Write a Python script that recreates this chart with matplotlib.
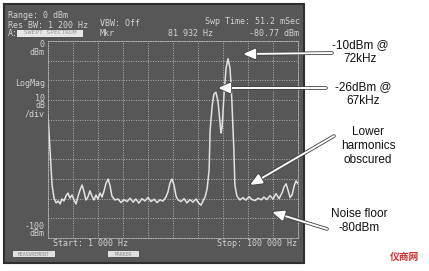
import numpy as np
import matplotlib
matplotlib.use("Agg")
import matplotlib.pyplot as plt
import matplotlib.patheffects as pe
from matplotlib.patches import Rectangle

# trace (kHz, dBm)
freq_khz = [1.0, 1.8, 2.6, 3.4, 4.2, 5.0, 5.8, 6.5, 7.3, 8.1, 8.9, 9.7, 10.5, 11.3,
            12.1, 12.9, 13.7, 14.5, 15.3, 16.0, 16.8, 17.6, 18.4, 19.2, 20.0, 20.8,
            21.6, 22.4, 23.2, 24.0, 24.8, 25.6, 26.3, 27.5, 28.7, 29.9, 31.1, 32.3,
            33.5, 34.7, 35.8, 37.0, 38.2, 39.4, 40.6, 41.8, 43.0, 44.2, 45.4, 46.5,
            47.7, 48.5, 49.3, 50.1, 50.9, 51.7, 52.5, 53.7, 54.9, 56.0, 57.2, 58.4,
            59.6, 60.8, 61.6, 62.4, 63.2, 64.0, 64.8, 65.2, 66.0, 66.7, 67.5, 68.3,
            69.1, 69.5, 69.9, 70.7, 71.5, 72.3, 73.1, 73.8, 74.6, 75.0, 75.8, 77.0,
            78.2, 79.4, 80.6, 81.8, 83.0, 84.2, 85.4, 86.5, 87.7, 88.9, 90.1, 91.3,
            92.5, 93.7, 94.5, 95.3, 96.1, 96.9, 97.7, 98.5, 99.2, 100.0]
level_dbm = [-37.6, -55.3, -73.1, -79.7, -82.2, -81.2, -82.7, -80.2, -81.2, -78.7,
             -77.2, -79.7, -78.2, -80.7, -82.7, -78.7, -75.6, -73.1, -76.6, -80.7,
             -79.2, -76.1, -78.7, -80.7, -78.2, -80.2, -77.2, -79.2, -76.1, -72.1,
             -70.1, -73.6, -78.7, -80.7, -80.2, -82.0, -80.5, -81.5, -79.8, -81.8,
             -80.2, -82.3, -80.0, -81.2, -79.5, -81.5, -80.3, -82.0, -80.6, -81.3,
             -79.2, -76.6, -72.1, -70.1, -73.1, -78.7, -80.7, -81.5, -80.0, -82.2,
             -80.5, -81.8, -80.2, -82.5, -83.3, -81.2, -79.2, -75.1, -65.5, -45.2,
             -33.0, -27.0, -26.0, -30.5, -41.1, -46.7, -44.2, -27.4, -14.0, -9.0,
             -14.0, -30.0, -55.3, -73.1, -78.7, -80.7, -79.5, -80.8, -79.0, -80.5,
             -81.0, -79.8, -80.6, -79.2, -80.5, -78.5, -80.2, -77.5, -80.0, -77.0,
             -74.0, -72.5, -76.0, -79.5, -78.0, -73.5, -71.0, -72.5]

W, H = 429, 271
fig = plt.figure(figsize=(4.29, 2.71), dpi=100)
fig.patch.set_facecolor("white")

# background layer in pixel coordinates
bg = fig.add_axes([0, 0, 1, 1])
bg.set_xlim(0, W)
bg.set_ylim(H, 0)
bg.axis("off")
bg.set_zorder(0)
bg.add_patch(Rectangle((4, 4), 300, 259, facecolor="#575757", edgecolor="#2e2e2e", lw=1.5))

scr = dict(family="DejaVu Sans Mono", fontsize=6, color="#d2d2d2", va="center")
bg.text(8, 16, "Range: 0 dBm", **scr)
bg.text(8, 25, "Res BW: 1 200 Hz", **scr)
bg.text(8, 33, "A:", **scr)
bg.add_patch(Rectangle((17, 29.5), 66, 7, facecolor="#e6e6e6", edgecolor="none"))
bg.text(50, 33, "SWEPT SPECTRUM", family="DejaVu Sans Mono", fontsize=4.5,
        color="#9a9a9a", ha="center", va="center")
bg.text(100, 23, "VBW: Off", **scr)
bg.text(100, 33, "Mkr", **scr)
bg.text(213, 33, "81 932 Hz", ha="right", **scr)
bg.text(205, 22, "Swp Time: 51.2 mSec", **scr)
bg.text(249, 33, "-80.77 dBm", **scr)

lab = dict(scr, ha="right", multialignment="right", linespacing=0.85)
bg.text(45, 48.5, "0\ndBm", **lab)
bg.text(45, 83, "LogMag", **lab)
bg.text(45, 106, "10\ndB\n/div", **lab)
bg.text(45, 230, "-100\ndBm", **lab)
bg.text(53, 243, "Start: 1 000 Hz", **scr)
bg.text(297, 243, "Stop: 100 000 Hz", ha="right", **scr)

bg.add_patch(Rectangle((13, 251), 42, 6, facecolor="#e0e0e0", edgecolor="none"))
bg.add_patch(Rectangle((108, 251), 31, 6, facecolor="#e0e0e0", edgecolor="none"))
bg.text(34, 254, "MEASUREMENT", family="DejaVu Sans Mono", fontsize=3.5,
        color="#8a8a8a", ha="center", va="center")
bg.text(123.5, 254, "MARKER", family="DejaVu Sans Mono", fontsize=3.5,
        color="#8a8a8a", ha="center", va="center")

# analyzer grid + trace
ax = fig.add_axes([48 / W, 1 - 238 / H, 250 / W, 197 / H])
ax.set_zorder(1)
ax.patch.set_alpha(0)
ax.plot(freq_khz, level_dbm, color="#e2e2e2", lw=1.1)
ax.set_xlim(1, 100)
ax.set_ylim(-100, 0)
ax.set_xticks(np.linspace(1, 100, 11))
ax.set_yticks(np.arange(-100, 1, 10))
ax.tick_params(length=0, labelbottom=False, labelleft=False)
ax.grid(True, color="#b4b4b4", ls=(0, (1, 1.5)), lw=0.7)
for s in ax.spines.values():
    s.set_color("#b4b4b4")
    s.set_linestyle((0, (1, 1.5)))
    s.set_linewidth(0.7)

# annotations on top
ov = fig.add_axes([0, 0, 1, 1])
ov.set_xlim(0, W)
ov.set_ylim(H, 0)
ov.axis("off")
ov.set_zorder(2)
ov.patch.set_alpha(0)

ann = dict(family="Liberation Sans", fontsize=8.5, color="#111111",
           ha="center", va="center", linespacing=1.25)
ov.text(360, 52, "-10dBm @\n72kHz", **ann)
ov.text(363, 94, "-26dBm @\n67kHz", **ann)
ov.text(368, 146, "Lower\nharmonics\nobscured", **ann)
ov.text(359, 221, "Noise floor\n-80dBm", **ann)

arrows = [((332, 53), (243, 54)), ((326, 88), (218, 88)),
          ((334, 136), (250, 185)), ((327, 229), (272, 212))]
for tail, head in arrows:
    ov.annotate("", xy=head, xytext=tail,
                arrowprops=dict(arrowstyle="-|>,head_length=0.7,head_width=0.3",
                                color="white", lw=1.4, shrinkA=0, shrinkB=0,
                                path_effects=[pe.withStroke(linewidth=2.6, foreground="#404040")]))

ov.text(404, 257, "仪商网", family=["Noto Sans CJK SC", "DejaVu Sans"], fontsize=7,
        fontweight="bold", color="#d42a2a", ha="center", va="center")

fig.savefig("out.png", dpi=100)
